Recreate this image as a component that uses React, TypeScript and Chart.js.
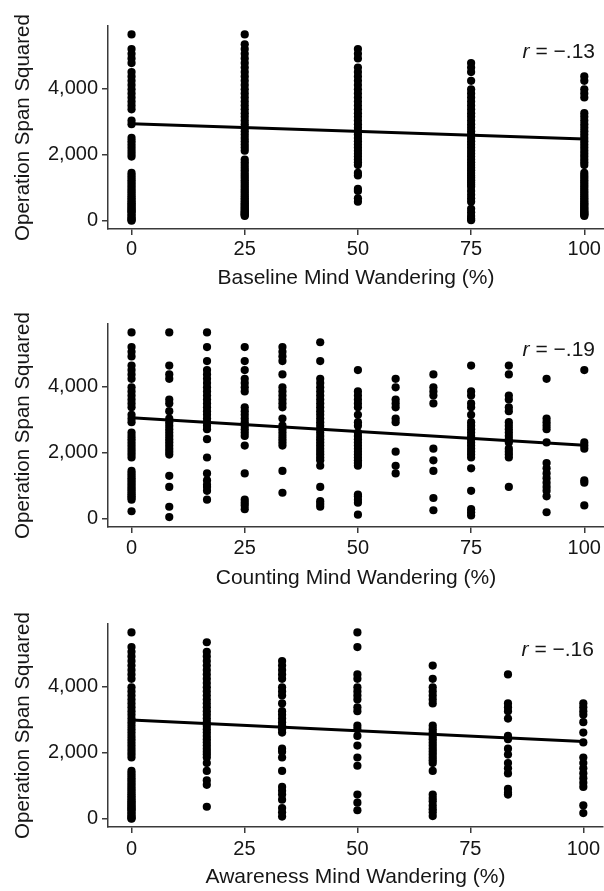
import React, { useEffect, useRef } from 'react';
import { Chart, registerables } from 'chart.js';

Chart.register(...registerables);

// ---------- shared axis data ----------
const xTickValues = [0, 25, 50, 75, 100];
const yTickValues = [0, 2000, 4000];
const yTitle = 'Operation Span Squared';

// ---------- Panel 1: Baseline ----------
const baselineLevels = [0, 25, 50, 75, 100];
const baselineAt0 = [5625, 5184, 5041, 4900, 4761, 4489, 4356, 4225, 4096, 3969, 3844, 3721, 3600, 3481, 3364, 3025, 2916, 2500, 2401, 2304, 2209, 2116, 2025, 1936, 1444, 1369, 1296, 1225, 1156, 1089, 1024, 961, 900, 841, 784, 729, 676, 625, 576, 529, 484, 441, 400, 361, 324, 289, 256, 196, 144, 100, 49, 25, 0];
const baselineAt25 = [5625, 5329, 5184, 5041, 4900, 4761, 4624, 4489, 4356, 4225, 4096, 3969, 3844, 3721, 3600, 3481, 3364, 3249, 3136, 3025, 2916, 2809, 2704, 2601, 2500, 2401, 2304, 2209, 2116, 1849, 1764, 1681, 1600, 1521, 1444, 1369, 1296, 1225, 1156, 1089, 1024, 961, 900, 841, 784, 729, 676, 625, 576, 529, 484, 441, 400, 361, 324, 289, 256, 225, 196, 169, 144];
const baselineAt50 = [5184, 5041, 4900, 4624, 4489, 4356, 4225, 4096, 3969, 3844, 3721, 3600, 3481, 3364, 3249, 3136, 3025, 2916, 2809, 2704, 2601, 2500, 2401, 2304, 2209, 2116, 2025, 1936, 1849, 1764, 1681, 1444, 1369, 961, 900, 676, 576];
const baselineAt75 = [4761, 4624, 4489, 4225, 3969, 3844, 3721, 3600, 3481, 3364, 3249, 3136, 3025, 2916, 2809, 2704, 2601, 2500, 2401, 2304, 2209, 2116, 2025, 1936, 1849, 1764, 1681, 1600, 1521, 1444, 1369, 1296, 1225, 1156, 1089, 1024, 900, 784, 676, 576, 361, 256, 144, 64, 16];
const baselineAt100 = [4356, 4225, 3969, 3844, 3721, 3249, 3136, 3025, 2916, 2809, 2704, 2601, 2500, 2401, 2304, 2209, 2116, 2025, 1936, 1849, 1764, 1681, 1444, 1369, 1296, 1225, 1156, 1089, 1024, 961, 900, 841, 784, 729, 676, 625, 576, 529, 484, 441, 400, 361, 324, 289, 256, 225, 196, 169, 144];
const baselineFit = [2930, 2470]; // fitted value at x = 0 and x = 100
const baselineR = '\u2212.13';

// ---------- Panel 2: Counting ----------
const countingLevels = [0, 8.33, 16.67, 25, 33.33, 41.67, 50, 58.33, 66.67, 75, 83.33, 91.67, 100];
const countingAt0 = [5625, 5184, 5041, 4900, 4624, 4489, 4356, 4225, 3969, 3844, 3721, 3600, 3481, 3364, 3136, 3025, 2916, 2601, 2500, 2401, 2304, 2209, 2116, 2025, 1936, 1849, 1444, 1369, 1296, 1225, 1156, 1089, 1024, 961, 900, 841, 784, 729, 676, 625, 576, 225];
const countingAt8 = [5625, 4624, 4356, 4225, 3600, 3481, 3249, 3025, 2916, 2809, 2704, 2601, 2500, 2401, 2304, 2209, 2116, 2025, 1936, 1296, 961, 361, 49];
const countingAt17 = [5625, 5184, 4761, 4489, 4356, 4225, 4096, 3969, 3844, 3721, 3600, 3481, 3364, 3249, 3136, 3025, 2916, 2809, 2704, 2401, 1849, 1369, 1156, 1024, 961, 841, 576];
const countingAt25 = [5184, 4761, 4489, 4225, 4096, 3969, 3844, 3364, 3249, 3136, 3025, 2916, 2809, 2704, 2601, 2500, 2209, 1369, 576, 484, 400, 289];
const countingAt33 = [5184, 5041, 4900, 4761, 4356, 3969, 3844, 3721, 3600, 3481, 3364, 3025, 2809, 2704, 2601, 2500, 2401, 2304, 2209, 1444, 784];
const countingAt42 = [5329, 4761, 4225, 4096, 3969, 3844, 3721, 3600, 3481, 3364, 3249, 3136, 3025, 2916, 2809, 2704, 2601, 2500, 2401, 2304, 2209, 2116, 2025, 1936, 1849, 1764, 1600, 961, 529, 441, 361];
const countingAt50 = [4489, 3844, 3721, 3600, 3481, 3364, 3136, 2916, 2809, 2601, 2500, 2401, 2304, 2209, 2116, 2025, 1936, 1849, 1764, 1681, 1600, 729, 676, 576, 484, 121];
const countingAt58 = [4225, 3969, 3600, 3481, 3364, 3025, 2916, 2025, 1600, 1369];
const countingAt67 = [4356, 3969, 3844, 3721, 3481, 2116, 1764, 1444, 625, 256];
const countingAt75 = [4624, 3844, 3721, 3481, 3364, 3136, 2916, 2809, 2704, 2601, 2500, 2401, 2304, 2209, 2116, 2025, 1936, 1849, 1521, 841, 289, 196, 100];
const countingAt83 = [4624, 4356, 3721, 3600, 3364, 3249, 2916, 2809, 2704, 2601, 2500, 2401, 2304, 2116, 2025, 1936, 1849, 961];
const countingAt92 = [4225, 3025, 2916, 2809, 2704, 2304, 1681, 1521, 1369, 1225, 1089, 961, 841, 676, 196];
const countingAt100 = [4489, 2304, 2209, 2116, 1156, 1089, 400];
const countingFit = [3050, 2220];
const countingR = '\u2212.19';

// ---------- Panel 3: Awareness ----------
const awarenessLevels = [0, 16.67, 33.33, 50, 66.67, 83.33, 100];
const awarenessAt0 = [5625, 5184, 5041, 4900, 4761, 4624, 4489, 4356, 4225, 3969, 3844, 3721, 3600, 3481, 3364, 3249, 3136, 3025, 2916, 2809, 2704, 2601, 2500, 2401, 2304, 2209, 2116, 2025, 1936, 1849, 1444, 1369, 1296, 1225, 1156, 1089, 1024, 961, 900, 841, 784, 729, 676, 625, 576, 529, 484, 441, 400, 361, 324, 289, 256, 196, 144, 100, 49, 16, 0];
const awarenessAt17 = [5329, 5041, 4900, 4761, 4624, 4489, 4356, 4225, 4096, 3969, 3844, 3721, 3600, 3481, 3364, 3249, 3136, 3025, 2916, 2809, 2704, 2601, 2500, 2401, 2304, 2209, 2116, 2025, 1936, 1849, 1681, 1444, 1156, 1024, 361];
const awarenessAt33 = [4761, 4624, 4489, 4356, 4225, 3969, 3844, 3721, 3481, 3249, 3136, 3025, 2916, 2809, 2704, 2601, 2116, 2025, 1849, 1444, 961, 841, 729, 576, 324, 196, 64];
const awarenessAt50 = [5625, 5184, 4356, 4225, 3969, 3844, 3721, 3600, 3364, 3249, 2809, 2704, 2500, 2209, 1849, 1600, 729, 484, 256];
const awarenessAt67 = [4624, 4225, 3969, 3844, 3721, 3600, 3481, 2809, 2704, 2601, 2500, 2401, 2304, 2209, 2116, 2025, 1936, 1849, 1764, 1681, 1444, 729, 625, 529, 400, 289, 196, 81];
const awarenessAt83 = [4356, 3481, 3364, 3249, 3025, 2500, 2401, 2116, 1936, 1681, 1521, 1369, 900, 784, 729];
const awarenessAt100 = [3481, 3364, 3249, 3136, 2916, 2601, 2304, 1849, 1681, 1521, 1369, 1225, 1089, 961, 400, 169];
const awarenessFit = [2980, 2330];
const awarenessR = '\u2212.16';

// ---------- styling / layout (not data) ----------
const FONT = "'Liberation Sans', Arial, sans-serif";
const TEXT = '#161616';
const AXIS = '#3a3a3a';

type PanelDef = {
  top: number;
  height: number;
  xTitle: string;
  levels: number[];
  columns: number[][];
  fit: number[];
  r: string;
  tickPad: number;
  titlePadBottom: number;
};

const panels: PanelDef[] = [
  {
    top: 0, height: 298, xTitle: 'Baseline Mind Wandering (%)',
    levels: baselineLevels,
    columns: [baselineAt0, baselineAt25, baselineAt50, baselineAt75, baselineAt100],
    fit: baselineFit, r: baselineR, tickPad: 2, titlePadBottom: 7,
  },
  {
    top: 298, height: 300, xTitle: 'Counting Mind Wandering (%)',
    levels: countingLevels,
    columns: [countingAt0, countingAt8, countingAt17, countingAt25, countingAt33, countingAt42, countingAt50, countingAt58, countingAt67, countingAt75, countingAt83, countingAt92, countingAt100],
    fit: countingFit, r: countingR, tickPad: 3, titlePadBottom: 7,
  },
  {
    top: 598, height: 293, xTitle: 'Awareness Mind Wandering (%)',
    levels: awarenessLevels,
    columns: [awarenessAt0, awarenessAt17, awarenessAt33, awarenessAt50, awarenessAt67, awarenessAt83, awarenessAt100],
    fit: awarenessFit, r: awarenessR, tickPad: 4, titlePadBottom: 1,
  },
];

// draws the r annotation and the vertical y title (real canvas text)
const textPlugin = {
  id: 'panelText',
  afterDraw(chart: any, _args: any, opts: any) {
    const ctx = chart.ctx;
    const area = chart.chartArea;
    ctx.save();
    ctx.fillStyle = TEXT;
    // r annotation
    ctx.textBaseline = 'alphabetic';
    ctx.textAlign = 'left';
    const rest = ' = ' + opts.r;
    ctx.font = `italic 21px ${FONT}`;
    const wr = ctx.measureText('r').width;
    ctx.font = `21px ${FONT}`;
    const wRest = ctx.measureText(rest).width;
    const right = area.right - 9;
    const y = area.top + 31.5;
    const x0 = right - wr - wRest;
    ctx.font = `italic 21px ${FONT}`;
    ctx.fillText('r', x0, y);
    ctx.font = `21px ${FONT}`;
    ctx.fillText(rest, x0 + wr, y);
    // y title
    ctx.translate(23, (area.top + area.bottom) / 2);
    ctx.rotate(-Math.PI / 2);
    ctx.textAlign = 'center';
    ctx.textBaseline = 'middle';
    ctx.font = `20.5px ${FONT}`;
    ctx.fillText(opts.yTitle, 0, 0);
    ctx.restore();
  },
};

function Panel({ def }: { def: PanelDef }) {
  const ref = useRef<HTMLCanvasElement | null>(null);
  useEffect(() => {
    if (!ref.current) return;
    const pointSets = def.columns.map((vals, i) => ({
      type: 'scatter' as const,
      data: vals.map((v) => ({ x: def.levels[i], y: v })),
      backgroundColor: '#000',
      borderWidth: 0,
      pointRadius: 4.1,
      pointHoverRadius: 4.1,
    }));
    const fitSet = {
      type: 'scatter' as const,
      data: [
        { x: xTickValues[0], y: def.fit[0] },
        { x: xTickValues[xTickValues.length - 1], y: def.fit[1] },
      ],
      showLine: true,
      borderColor: '#000',
      borderWidth: 3,
      pointRadius: 0,
      order: -1,
    };
    const tickBottomSpace = def.height - 229;
    const chart = new Chart(ref.current, {
      type: 'scatter',
      data: { datasets: [...pointSets, fitSet] as any },
      plugins: [textPlugin],
      options: {
        responsive: false,
        animation: false,
        events: [],
        layout: { padding: { top: 26, left: 0, right: 0, bottom: 0 }, autoPadding: false },
        plugins: {
          legend: { display: false },
          tooltip: { enabled: false },
          panelText: { r: def.r, yTitle },
        } as any,
        scales: {
          x: {
            type: 'linear',
            min: -5.2,
            max: 104.35,
            afterBuildTicks: (s: any) => { s.ticks = xTickValues.map((v) => ({ value: v })); },
            afterFit: (s: any) => { s.height = tickBottomSpace; },
            border: { display: true, color: AXIS, width: 1.5 },
            grid: { display: true, drawOnChartArea: false, drawTicks: true, tickLength: 6, color: AXIS, lineWidth: 1.5 },
            ticks: { color: TEXT, font: { family: FONT, size: 20 }, padding: def.tickPad, maxRotation: 0, autoSkip: false },
            title: { display: true, text: def.xTitle, color: TEXT, font: { family: FONT, size: 21 }, padding: { top: 0, bottom: def.titlePadBottom } },
          },
          y: {
            type: 'linear',
            min: -250,
            max: 5880,
            afterBuildTicks: (s: any) => { s.ticks = yTickValues.map((v) => ({ value: v })); },
            afterFit: (s: any) => { s.width = 108; },
            border: { display: true, color: AXIS, width: 1.5 },
            grid: { display: true, drawOnChartArea: false, drawTicks: true, tickLength: 6, color: AXIS, lineWidth: 1.5 },
            ticks: {
              color: TEXT,
              font: { family: FONT, size: 20 },
              padding: 4,
              callback: (v: any) => Number(v).toLocaleString('en-US'),
            },
            title: { display: false },
          },
        },
      } as any,
    });
    return () => chart.destroy();
  }, [def]);
  return (
    <canvas
      ref={ref}
      width={604}
      height={def.height}
      style={{ position: 'absolute', left: 0, top: def.top, width: 604, height: def.height }}
    />
  );
}

export default function App() {
  return (
    <div style={{ position: 'absolute', left: 0, top: 0, width: 604, height: 891, background: '#fff', overflow: 'hidden' }}>
      {panels.map((p, i) => (
        <Panel key={i} def={p} />
      ))}
    </div>
  );
}
